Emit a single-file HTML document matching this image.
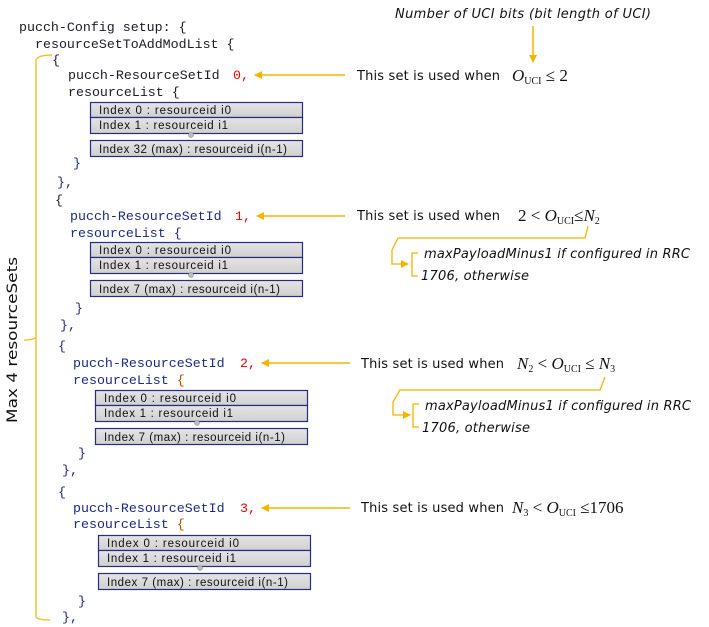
<!DOCTYPE html>
<html><head><meta charset="utf-8"><style>
html,body{margin:0;padding:0;background:#fff;}
svg{display:block;}
.c{font-family:"Liberation Mono",monospace;font-size:13.3px;fill:#1a1a2a;}
.b{fill:#1c2a80;}
.r{fill:#e00;}
.s{font-family:"DejaVu Sans","Liberation Sans",sans-serif;font-size:13px;fill:#111;}
.i{font-family:"DejaVu Sans","Liberation Sans",sans-serif;font-size:13px;font-style:italic;fill:#111;}
.m{font-family:"Liberation Serif",serif;font-size:17px;fill:#111;}
.m .it{font-style:italic;}
.sub{font-size:10px;}
.bx{font-family:"Liberation Sans",sans-serif;font-size:11.5px;fill:#111;}
</style></head><body>
<svg width="709" height="627" viewBox="0 0 709 627" xmlns="http://www.w3.org/2000/svg">
<defs>
<marker id="a" markerWidth="8" markerHeight="8" refX="7" refY="4" orient="auto" markerUnits="userSpaceOnUse"><path d="M0,0 L8,4 L0,8 z" fill="#f5b400"/></marker>
<linearGradient id="g" x1="0" y1="0" x2="0" y2="1"><stop offset="0" stop-color="#e4e4e4"/><stop offset="1" stop-color="#d0d0d0"/></linearGradient>
</defs>

<text class="c" x="19" y="31">pucch-Config setup: {</text>
<text class="c" x="35" y="48">resourceSetToAddModList {</text>

<text class="c" x="52" y="64">{</text>
<text class="c" x="68" y="79">pucch-ResourceSetId</text><text class="c r" x="233" y="79">0,</text>
<text class="c" x="68" y="96">resourceList {</text>
<text class="c b" x="73" y="167">}</text>
<text class="c b" x="57" y="186">},</text>

<text class="c" x="55" y="204">{</text>
<text class="c b" x="70" y="220">pucch-ResourceSetId</text><text class="c r" x="235" y="220">1,</text>
<text class="c b" x="70" y="237">resourceList {</text>
<text class="c b" x="75" y="312">}</text>
<text class="c b" x="60" y="329">},</text>

<text class="c b" x="58" y="350">{</text>
<text class="c b" x="73" y="367">pucch-ResourceSetId</text><text class="c r" x="240" y="367">2,</text>
<text class="c b" x="73" y="384">resourceList <tspan fill="#b05000">{</tspan></text>
<text class="c b" x="78" y="457">}</text>
<text class="c b" x="62" y="474">},</text>

<text class="c b" x="58" y="496">{</text>
<text class="c b" x="73" y="512">pucch-ResourceSetId</text><text class="c r" x="240" y="512">3,</text>
<text class="c b" x="73" y="528">resourceList <tspan fill="#b05000">{</tspan></text>
<text class="c b" x="78" y="605">}</text>
<text class="c b" x="62" y="621">},</text>

<g stroke="#2a2a80" stroke-width="1.2" fill="url(#g)">
<rect x="90.5" y="102.5" width="212" height="15"/><rect x="90.5" y="117.5" width="212" height="16"/><rect x="90.5" y="140.5" width="212" height="16"/>
<rect x="90.5" y="242.5" width="212" height="15"/><rect x="90.5" y="257.5" width="212" height="16"/><rect x="90.5" y="280.5" width="212" height="16"/>
<rect x="95.5" y="390.5" width="212" height="15"/><rect x="95.5" y="405.5" width="212" height="16"/><rect x="95.5" y="428.5" width="212" height="16"/>
<rect x="98.5" y="535.5" width="212" height="15"/><rect x="98.5" y="550.5" width="212" height="16"/><rect x="98.5" y="573.5" width="212" height="16"/>
</g>
<g fill="#bbb" stroke="#888" stroke-width="0.5">
<circle cx="191" cy="135" r="2.5"/><circle cx="191" cy="275" r="2.5"/><circle cx="197" cy="423" r="2.5"/><circle cx="200" cy="568" r="2.5"/>
</g>
<g class="bx">
<text x="99" y="114" textLength="132">Index 0 : resourceid i0</text><text x="99" y="129" textLength="129">Index 1 : resourceid i1</text><text x="99" y="153" textLength="188">Index 32 (max) : resourceid i(n-1)</text>
<text x="99" y="254" textLength="132">Index 0 : resourceid i0</text><text x="99" y="269" textLength="129">Index 1 : resourceid i1</text><text x="99" y="293" textLength="181">Index 7 (max) : resourceid i(n-1)</text>
<text x="104" y="402" textLength="132">Index 0 : resourceid i0</text><text x="104" y="417" textLength="129">Index 1 : resourceid i1</text><text x="104" y="441" textLength="181">Index 7 (max) : resourceid i(n-1)</text>
<text x="107" y="547" textLength="132">Index 0 : resourceid i0</text><text x="107" y="562" textLength="129">Index 1 : resourceid i1</text><text x="107" y="586" textLength="181">Index 7 (max) : resourceid i(n-1)</text>
</g>

<g stroke="#f5c030" stroke-width="1.5" fill="none">
<path d="M52,55 Q38,55 36,60 L36,337 Q34,340 24,340 M36,337 Q36,343 36,345 L36,617 Q38,620 50,620"/>
</g>
<text class="s" style="font-size:14px" transform="translate(17,340) rotate(-90)" text-anchor="middle" textLength="166" lengthAdjust="spacingAndGlyphs">Max 4 resourceSets</text>

<text class="i" x="395" y="18" textLength="256">Number of UCI bits (bit length of UCI)</text>
<line x1="533" y1="26" x2="533" y2="62" stroke="#f5b400" stroke-width="1.5" marker-end="url(#a)"/>

<g stroke="#f5b400" stroke-width="1.5">
<line x1="345" y1="75" x2="255" y2="75" marker-end="url(#a)"/>
<line x1="345" y1="216" x2="257" y2="216" marker-end="url(#a)"/>
<line x1="350" y1="363" x2="262" y2="363" marker-end="url(#a)"/>
<line x1="350" y1="508" x2="262" y2="508" marker-end="url(#a)"/>
</g>

<text class="s" x="357" y="80" textLength="143">This set is used when</text>
<text class="m" x="512" y="81"><tspan class="it">O</tspan><tspan class="sub" dy="3">UCI</tspan><tspan dy="-3"> ≤ 2</tspan></text>

<text class="s" x="357" y="220" textLength="143">This set is used when</text>
<text class="m" x="518" y="221">2 &lt; <tspan class="it">O</tspan><tspan class="sub" dy="3">UCI</tspan><tspan dy="-3">≤</tspan><tspan class="it">N</tspan><tspan class="sub" dy="3">2</tspan></text>

<text class="s" x="361" y="368" textLength="143">This set is used when</text>
<text class="m" x="517" y="369"><tspan class="it">N</tspan><tspan class="sub" dy="3">2</tspan><tspan dy="-3"> &lt; </tspan><tspan class="it">O</tspan><tspan class="sub" dy="3">UCI</tspan><tspan dy="-3"> ≤ </tspan><tspan class="it">N</tspan><tspan class="sub" dy="3">3</tspan></text>

<text class="s" x="361" y="512" textLength="143">This set is used when</text>
<text class="m" x="512" y="513"><tspan class="it">N</tspan><tspan class="sub" dy="3">3</tspan><tspan dy="-3"> &lt; </tspan><tspan class="it">O</tspan><tspan class="sub" dy="3">UCI</tspan><tspan dy="-3"> ≤1706</tspan></text>

<g stroke="#f5b400" stroke-width="1.3" fill="none">
<path d="M588,226 L585,238 L398,238 L392,250 L392,264 L408,264" marker-end="url(#a)"/>
<path d="M418,253 L412,253 L412,276 L418,276"/>
<path d="M605,377 L600,390 L400,390 L393,402 L393,415 L410,415" marker-end="url(#a)"/>
<path d="M419,404 L413,404 L413,427 L419,427"/>
</g>
<text class="i" x="424" y="258" textLength="266">maxPayloadMinus1 if configured in RRC</text>
<text class="i" x="421" y="280" textLength="108">1706, otherwise</text>
<text class="i" x="425" y="410" textLength="266">maxPayloadMinus1 if configured in RRC</text>
<text class="i" x="422" y="432" textLength="108">1706, otherwise</text>
</svg>
</body></html>
